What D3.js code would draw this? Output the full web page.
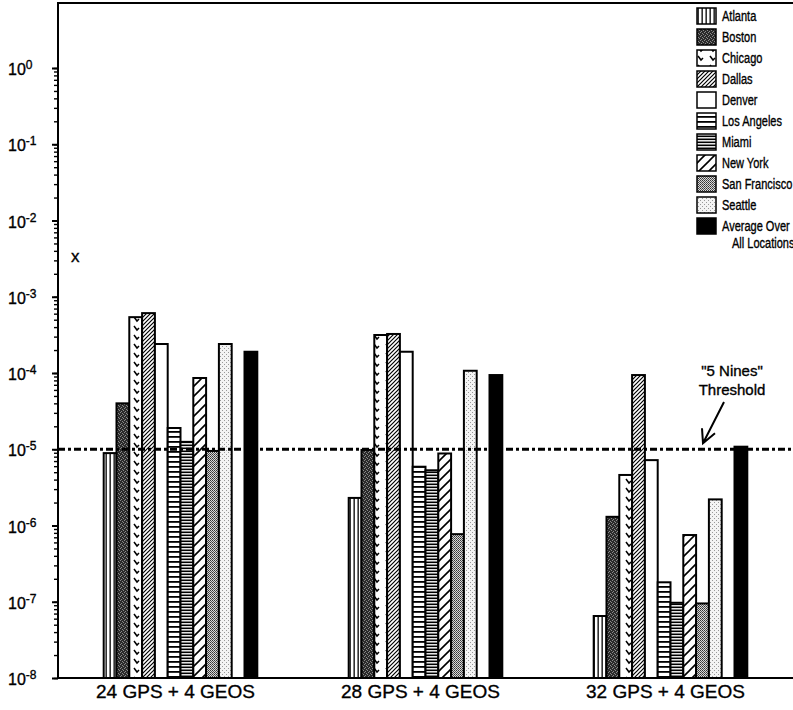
<!DOCTYPE html>
<html>
<head>
<meta charset="utf-8">
<script src="https://cdn.jsdelivr.net/npm/d3@7"></script>
<style>
  html, body { margin: 0; padding: 0; background: #fff; }
  svg { display: block; }
  text { font-family: "Liberation Sans", Arial, Helvetica, sans-serif; fill: #000; stroke: #000; stroke-width: 0.35px; }
</style>
</head>
<body>
<svg id="chart" width="793" height="710"></svg>
<script>
// Constellation configurations along the x axis
const groups = ["24 GPS + 4 GEOS", "28 GPS + 4 GEOS", "32 GPS + 4 GEOS"];

// Locations (the average is drawn after a one-bar gap)
const cities = ["Atlanta", "Boston", "Chicago", "Dallas", "Denver",
                "Los Angeles", "Miami", "New York", "San Francisco", "Seattle"];
const averageLabel = ["Average Over", "All Locations"];

// Values per location, one entry per configuration
const atlanta      = [8.9e-6, 2.3e-6, 6.5e-8];
const boston       = [4.0e-5, 9.8e-6, 1.3e-6];
const chicago      = [5.4e-4, 3.15e-4, 4.6e-6];
const dallas       = [6.1e-4, 3.25e-4, 9.4e-5];
const denver       = [2.4e-4, 1.9e-4, 7.2e-6];
const losAngeles   = [1.9e-5, 5.9e-6, 1.8e-7];
const miami        = [1.25e-5, 5.3e-6, 9.7e-8];
const newYork      = [8.6e-5, 8.8e-6, 7.5e-7];
const sanFrancisco = [9.5e-6, 7.7e-7, 9.5e-8];
const seattle      = [2.4e-4, 1.07e-4, 2.2e-6];
const average      = [1.9e-4, 9.4e-5, 1.08e-5];

// "5 Nines" threshold and y tick exponents
const threshold = 1e-5;
const tickExponents = [0, -1, -2, -3, -4, -5, -6, -7, -8];
const thresholdLabel = ["\"5 Nines\"", "Threshold"];
const yLabel = "x";

const series = [atlanta, boston, chicago, dallas, denver, losAngeles,
                miami, newYork, sanFrancisco, seattle];

const svg = d3.select("#chart");

// ---- fill patterns --------------------------------------------------------
const defs = svg.append("defs");
function pattern(id, w, h) {
  return defs.append("pattern").attr("id", id)
    .attr("patternUnits", "userSpaceOnUse")
    .attr("width", w).attr("height", h);
}
function bg(p, w, h, c) { p.append("rect").attr("width", w).attr("height", h).attr("fill", c); }

// Atlanta: vertical lines
let p = pattern("pAtlanta", 4, 4); bg(p, 4, 4, "#fff");
p.append("rect").attr("x", 1.5).attr("width", 1.3).attr("height", 4).attr("fill", "#000");
// Boston: dark stipple
p = pattern("pBoston", 4, 4); bg(p, 4, 4, "#2b2b2b");
[[0,0],[2,1],[1,3],[3,2]].forEach(([x,y]) => p.append("rect").attr("x", x).attr("y", y).attr("width", 1).attr("height", 1).attr("fill", "#8a8a8a"));
// Chicago: short check strokes
p = pattern("pChicago", 12, 9); bg(p, 12, 9, "#fff");
p.append("path").attr("d", "M2,2 L5,6 L7,4").attr("fill", "none").attr("stroke", "#000").attr("stroke-width", 1.5);
// Dallas: dense diagonal hatching
p = pattern("pDallas", 4, 4); bg(p, 4, 4, "#fff");
p.append("path").attr("d", "M-1,1 L1,-1 M0,4 L4,0 M3,5 L5,3").attr("stroke", "#000").attr("stroke-width", 1.2);
// Los Angeles: horizontal lines
p = pattern("pLA", 5, 5); bg(p, 5, 5, "#fff");
p.append("rect").attr("y", 1).attr("width", 5).attr("height", 1.8).attr("fill", "#000");
// Miami: dense horizontal lines
p = pattern("pMiami", 4, 3); bg(p, 4, 3, "#fff");
p.append("rect").attr("y", 0.5).attr("width", 4).attr("height", 1.6).attr("fill", "#000");
// New York: wide diagonal hatching
p = pattern("pNY", 10, 10); bg(p, 10, 10, "#fff");
p.append("path").attr("d", "M-2,2 L2,-2 M0,10 L10,0 M8,12 L12,8").attr("stroke", "#000").attr("stroke-width", 1.6);
// San Francisco: medium stipple
p = pattern("pSF", 2, 2); bg(p, 2, 2, "#d8d8d8");
p.append("rect").attr("width", 1).attr("height", 1).attr("fill", "#333");
p.append("rect").attr("x", 1).attr("y", 1).attr("width", 1).attr("height", 1).attr("fill", "#555");
// Seattle: light stipple
p = pattern("pSeattle", 4, 4); bg(p, 4, 4, "#f4f4f4");
[[0,0],[2,2]].forEach(([x,y]) => p.append("rect").attr("x", x).attr("y", y).attr("width", 1).attr("height", 1).attr("fill", "#999"));

const fills = ["url(#pAtlanta)", "url(#pBoston)", "url(#pChicago)", "url(#pDallas)", "#fff",
               "url(#pLA)", "url(#pMiami)", "url(#pNY)", "url(#pSF)", "url(#pSeattle)"];
const avgFill = "#000";

// ---- scales ---------------------------------------------------------------
const plotLeft = 58, plotRight = 793, plotTop = 3, plotBottom = 678;
const y = d3.scaleLog().domain([1e-8, 1]).range([plotBottom, 68]);
const x0 = d3.scaleBand().domain(groups).range([plotLeft, plotRight]);
const slots = d3.range(12); // 10 locations, a gap, the average
const x1 = d3.scaleBand().domain(slots).range([0, x0.bandwidth()]).paddingOuter(3.57);

// ---- bars -----------------------------------------------------------------
const barData = [];
groups.forEach((g, gi) => {
  series.forEach((s, ci) => barData.push({ g, slot: ci, v: s[gi], fill: fills[ci] }));
  barData.push({ g, slot: 11, v: average[gi], fill: avgFill });
});

svg.append("g").selectAll("rect").data(barData).join("rect")
  .attr("x", d => x0(d.g) + x1(d.slot))
  .attr("width", x1.bandwidth())
  .attr("y", d => y(d.v))
  .attr("height", d => y(1e-8) - y(d.v))
  .attr("fill", d => d.fill)
  .attr("stroke", "#000")
  .attr("stroke-width", 2);

// ---- frame and axes -------------------------------------------------------
svg.append("path")
  .attr("d", `M${plotRight},${plotTop} H${plotLeft} V${plotBottom} H${plotRight}`)
  .attr("fill", "none").attr("stroke", "#000").attr("stroke-width", 2);

const minor = y.ticks().filter(v => v <= 1);
const yMinor = d3.axisLeft(y).tickValues(minor).tickSize(4).tickFormat("");
svg.append("g").attr("transform", `translate(${plotLeft},0)`).call(yMinor)
  .call(g => g.select(".domain").remove())
  .call(g => g.selectAll("line").attr("stroke-width", 1.4));

const majors = tickExponents.map(e => Math.pow(10, e));
const yMajor = d3.axisLeft(y).tickValues(majors).tickSize(6).tickFormat("");
svg.append("g").attr("transform", `translate(${plotLeft},0)`).call(yMajor)
  .call(g => g.select(".domain").remove())
  .call(g => g.selectAll("line").attr("stroke-width", 2));

const yLab = svg.append("g").selectAll("text").data(tickExponents).join("text")
  .attr("x", 8).attr("y", e => y(Math.pow(10, e)) + 7)
  .attr("font-size", 16);
yLab.append("tspan").text("10");
yLab.append("tspan").attr("dy", -6).attr("font-size", 12).text(e => String(e));

svg.append("text").attr("x", 71).attr("y", 262)
  .attr("font-size", 17).text(yLabel);

// x axis group labels
svg.append("g").selectAll("text").data(groups).join("text")
  .attr("x", g => x0(g) + x0.bandwidth() / 2 - 5)
  .attr("y", 698)
  .attr("text-anchor", "middle")
  .attr("font-size", 19)
  .text(g => g);

// ---- threshold ------------------------------------------------------------
svg.append("line")
  .attr("x1", plotLeft).attr("x2", plotRight)
  .attr("y1", y(threshold)).attr("y2", y(threshold))
  .attr("stroke", "#000").attr("stroke-width", 3)
  .attr("stroke-dasharray", "7,3,3,3");

const ann = svg.append("g");
ann.selectAll("text").data(thresholdLabel).join("text")
  .attr("x", 732).attr("y", (d, i) => 376 + i * 19)
  .attr("text-anchor", "middle").attr("font-size", 15)
  .text(d => d);
const tipX = 703, tipY = y(threshold) - 6;
ann.append("path")
  .attr("d", `M724,402 L${tipX},${tipY} M${tipX - 1},${tipY - 15} L${tipX},${tipY} L${tipX + 12},${tipY - 10}`)
  .attr("fill", "none").attr("stroke", "#000").attr("stroke-width", 2);

// ---- legend ---------------------------------------------------------------
// legend labels use a condensed setting of the sans face
const legendSquash = 0.76;
const legend = svg.append("g");
const legendItems = cities.map((c, i) => ({ label: [c], fill: fills[i] }))
  .concat([{ label: averageLabel, fill: avgFill }]);
const rowY = i => 8 + i * 21;
legendItems.forEach((d, i) => {
  legend.append("rect")
    .attr("x", 697).attr("y", rowY(i)).attr("width", 19).attr("height", 16)
    .attr("fill", d.fill).attr("stroke", "#000").attr("stroke-width", 1.5);
  d.label.forEach((t, j) => {
    legend.append("text")
      .attr("transform", `translate(${722 + j * 10},${rowY(i) + 13 + j * 17}) scale(${legendSquash},1)`)
      .attr("font-size", 14.5)
      .text(t);
  });
});
</script>
</body>
</html>
